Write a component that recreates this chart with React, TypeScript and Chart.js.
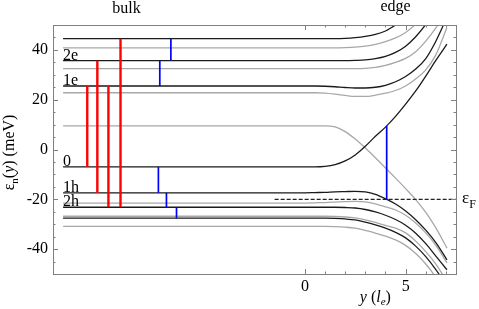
import React, { useEffect, useRef } from "react";
import { Chart, registerables } from "chart.js";
Chart.register(...registerables);

// ---- data ----
const xGrid = [-12, 0, 0.5, 1, 1.5, 2, 2.5, 3, 3.5, 4, 4.5, 5, 5.5, 6, 6.5, 7.05];

const black44 = [44.5, 44.5, 44.5, 44.5, 44.5, 44.6, 44.9, 45.4, 46.2, 47.6, 50.0, 53, 57, 61, 66, 72];
const gray41 = [40.8, 40.8, 40.8, 40.8, 40.8, 40.9, 41.1, 41.5, 42.2, 43.3, 44.8, 47.0, 50.3, 54, 58, 63];
const black36 = [35.7, 35.7, 35.7, 35.7, 35.7, 35.7, 35.8, 36.0, 36.5, 37.4, 39.0, 41.5, 45.3, 50.2, 56, 63];
const gray32 = [32.5, 32.5, 32.5, 32.5, 32.5, 32.5, 32.5, 32.6, 33.0, 33.8, 35.0, 36.6, 39.3, 43.5, 48.8, 56];
const black25 = [25.5, 25.5, 25.5, 25.4, 25.2, 24.9, 24.7, 24.7, 25.0, 25.8, 27.2, 29.3, 32.3, 36.5, 43.5, 53];
const gray23 = [22.8, 22.8, 22.8, 22.6, 22.2, 21.7, 21.3, 21.3, 21.8, 22.6, 23.7, 25.5, 28.3, 32, 38, 49];
const gray10 = [9.5, 9.5, 9.5, 9.5, 9.1, 7.2, 4.2, 0.6, -3.3, -7.4, -11.5, -15.7, -20.1, -25.3, -31.5, -39.6];
const black0 = [-7, -7, -7, -6.8, -6.1, -4.6, -2.2, 1.3, 5.3, 9.0, 13.3, 18.2, 23.5, 29.5, 35.8, 42.3];
const black1h = [-17.4, -17.4, -17.3, -17.2, -17.0, -16.9, -16.8, -17.0, -18.0, -19.8, -21.9, -24.7, -28.2, -32.4, -37.4, -44.3];
const gray21 = [-21.5, -21.5, -21.4, -21.3, -21.1, -20.9, -20.8, -21.0, -21.8, -23.0, -24.3, -26.4, -29.5, -33.5, -38.5, -45.5];
const black2h = [-23.2, -23.2, -23.2, -23.2, -23.2, -23.3, -23.5, -24.1, -25.1, -26.4, -28.1, -30.4, -33.6, -37.8, -42.8, -48.3];
const gray27 = [-26.8, -26.8, -26.8, -26.8, -26.9, -27.1, -27.5, -28.3, -29.3, -30.5, -31.6, -33.5, -36.8, -41.0, -46.0, -53];
const black28 = [-27.6, -27.6, -27.6, -27.6, -27.7, -27.9, -28.3, -29.2, -30.3, -31.6, -33.3, -35.5, -38.8, -43.0, -48.2, -55];
const gray31 = [-30.9, -30.9, -30.9, -30.9, -31.0, -31.2, -31.6, -32.5, -33.6, -34.8, -36.3, -38.5, -41.8, -46.0, -51.3, -58];

const blackCurves = [black44, black36, black25, black0, black1h, black2h, black28];
const grayCurves = [gray41, gray32, gray23, gray10, gray21, gray27, gray31];

// bulk transitions
const redX = [-10.8, -10.3, -9.75, -9.15];
const redLow = [-7, -17.4, -23.2, -23.2];
const redHigh = [25.5, 35.7, 25.5, 44.5];

const blueX = [-7.2, -6.65, -7.27, -6.87, -6.37, 4.06];
const blueLow = [25.5, 35.7, -17.4, -23.2, -27.6, -20];
const blueHigh = [35.7, 44.5, -7, -17.4, -23.2, 9.5];

const levelNames = ["2e", "1e", "0", "1h", "2h"];
const levelValues = [35.7, 25.5, -7, -17.4, -23.2];
const levelLabelX = -12;

const fermiLevel = -20;
const fermiStart = -1.5;
const fermiEnd = 7.5;

const xTickValues = [0, 5];
const xMinorFrom = 0;
const xMinorTo = 7;
const yTickValues = [-40, -20, 0, 20, 40];

const bulkLabelX = -8.85;
const edgeLabelX = 4.5;
const xTitleCenter = 3.5;

const SERIF = "Liberation Serif";

type Part = { t: string; size: number; italic?: boolean; dy?: number };

function drawRich(ctx: CanvasRenderingContext2D, parts: Part[], x: number, y: number, align: "left" | "center") {
  let total = 0;
  const widths = parts.map((p) => {
    ctx.font = `${p.italic ? "italic " : ""}${p.size}px "${SERIF}"`;
    const w = ctx.measureText(p.t).width;
    total += w;
    return w;
  });
  let cx = align === "center" ? x - total / 2 : x;
  ctx.textAlign = "left";
  ctx.textBaseline = "alphabetic";
  parts.forEach((p, i) => {
    ctx.font = `${p.italic ? "italic " : ""}${p.size}px "${SERIF}"`;
    ctx.fillText(p.t, cx, y + (p.dy || 0));
    cx += widths[i];
  });
}

const decorPlugin = {
  id: "decor",
  afterDraw(chart: any) {
    const { ctx, chartArea: a, scales } = chart;
    const xs = scales.x;
    const ys = scales.y;
    ctx.save();
    // frame
    ctx.strokeStyle = "#808080";
    ctx.lineWidth = 1;
    ctx.strokeRect(Math.round(a.left) + 0.5, Math.round(a.top) + 0.5, Math.round(a.right - a.left), Math.round(a.bottom - a.top));
    // ticks (inward)
    ctx.beginPath();
    for (let v = -45; v <= 45; v += 5) {
      const py = Math.round(ys.getPixelForValue(v)) + 0.5;
      const len = yTickValues.includes(v) ? 5 : 2.5;
      ctx.moveTo(a.left, py);
      ctx.lineTo(a.left + len, py);
      ctx.moveTo(a.right, py);
      ctx.lineTo(a.right - len, py);
    }
    for (let v = xMinorFrom; v <= xMinorTo; v += 1) {
      const px = Math.round(xs.getPixelForValue(v)) + 0.5;
      const len = xTickValues.includes(v) ? 5 : 2.5;
      ctx.moveTo(px, a.bottom);
      ctx.lineTo(px, a.bottom - len);
      ctx.moveTo(px, a.top);
      ctx.lineTo(px, a.top + len);
    }
    ctx.stroke();

    ctx.fillStyle = "#000";
    levelNames.forEach((n, i) => {
      drawRich(ctx, [{ t: n, size: 16 }], xs.getPixelForValue(levelLabelX), ys.getPixelForValue(levelValues[i]) - 1, "left");
    });
    drawRich(ctx, [{ t: "bulk", size: 16 }], xs.getPixelForValue(bulkLabelX), 12.5, "center");
    drawRich(ctx, [{ t: "edge", size: 16 }], xs.getPixelForValue(edgeLabelX), 11, "center");
    drawRich(
      ctx,
      [
        { t: "y", size: 16, italic: true },
        { t: " (", size: 16 },
        { t: "l", size: 16, italic: true },
        { t: "e", size: 11, italic: true, dy: 3 },
        { t: ")", size: 16 },
      ],
      xs.getPixelForValue(xTitleCenter),
      302,
      "center"
    );
    drawRich(
      ctx,
      [
        { t: "ε", size: 17 },
        { t: "F", size: 12, dy: 5 },
      ],
      a.right + 6,
      ys.getPixelForValue(fermiLevel) + 4,
      "left"
    );
    ctx.save();
    ctx.translate(13.5, (a.top + a.bottom) / 2 + 3);
    ctx.rotate(-Math.PI / 2);
    drawRich(
      ctx,
      [
        { t: "ε", size: 16 },
        { t: "n", size: 11, dy: 4 },
        { t: "(", size: 16 },
        { t: "y", size: 16, italic: true },
        { t: ") (meV)", size: 16 },
      ],
      0,
      0,
      "center"
    );
    ctx.restore();
    ctx.restore();
  },
};

export default function App() {
  const ref = useRef<HTMLCanvasElement | null>(null);
  useEffect(() => {
    if (!ref.current) return;
    const curve = (arr: number[], color: string, order: number) => ({
      data: xGrid.map((x, i) => ({ x, y: arr[i] })),
      showLine: true,
      borderColor: color,
      borderWidth: 1.3,
      pointRadius: 0,
      cubicInterpolationMode: "monotone",
      clip: 0,
      order,
    });
    const vline = (x: number, lo: number, hi: number, color: string, w: number) => ({
      data: [
        { x, y: lo },
        { x, y: hi },
      ],
      showLine: true,
      borderColor: color,
      borderWidth: w,
      pointRadius: 0,
      clip: 0,
      order: 0,
    });
    const datasets: any[] = [
      ...redX.map((x, i) => vline(x, redLow[i], redHigh[i], "#ff0000", 2.4)),
      ...blueX.map((x, i) => vline(x, blueLow[i], blueHigh[i], "#0000ff", 1.7)),
      {
        data: [
          { x: fermiStart, y: fermiLevel },
          { x: fermiEnd, y: fermiLevel },
        ],
        showLine: true,
        borderColor: "#222",
        borderWidth: 1.2,
        borderDash: [4, 2],
        pointRadius: 0,
        clip: 0,
        order: 1,
      },
      ...blackCurves.map((c) => curve(c, "#1a1a1a", 2)),
      ...grayCurves.map((c) => curve(c, "#a8a8a8", 3)),
    ];
    const tickFont = { family: SERIF, size: 16 };
    const chart = new Chart(ref.current, {
      type: "scatter",
      data: { datasets },
      options: {
        animation: false,
        responsive: false,
        devicePixelRatio: 1,
        layout: { padding: { top: 25, right: 23, left: 0, bottom: 0 } },
        plugins: { legend: { display: false }, tooltip: { enabled: false } },
        scales: {
          x: {
            type: "linear",
            min: -12.5,
            max: 7.5,
            grid: { display: false, drawTicks: false },
            border: { display: false },
            ticks: { font: tickFont, color: "#000", padding: 3, maxRotation: 0, autoSkip: false },
            afterBuildTicks: (s: any) => {
              s.ticks = xTickValues.map((v) => ({ value: v }));
            },
            afterFit: (s: any) => {
              s.height = 35;
            },
          },
          y: {
            type: "linear",
            min: -50,
            max: 50,
            grid: { display: false, drawTicks: false },
            border: { display: false },
            ticks: { font: tickFont, color: "#000", padding: 5, autoSkip: false },
            afterBuildTicks: (s: any) => {
              s.ticks = yTickValues.map((v) => ({ value: v }));
            },
            afterFit: (s: any) => {
              s.width = 53;
            },
          },
        },
      } as any,
      plugins: [decorPlugin],
    });
    return () => chart.destroy();
  }, []);
  return (
    <div style={{ position: "absolute", left: 0, top: 0, width: 479, height: 309, background: "#fff" }}>
      <canvas ref={ref} width={479} height={309} style={{ width: 479, height: 309, display: "block" }} />
    </div>
  );
}
